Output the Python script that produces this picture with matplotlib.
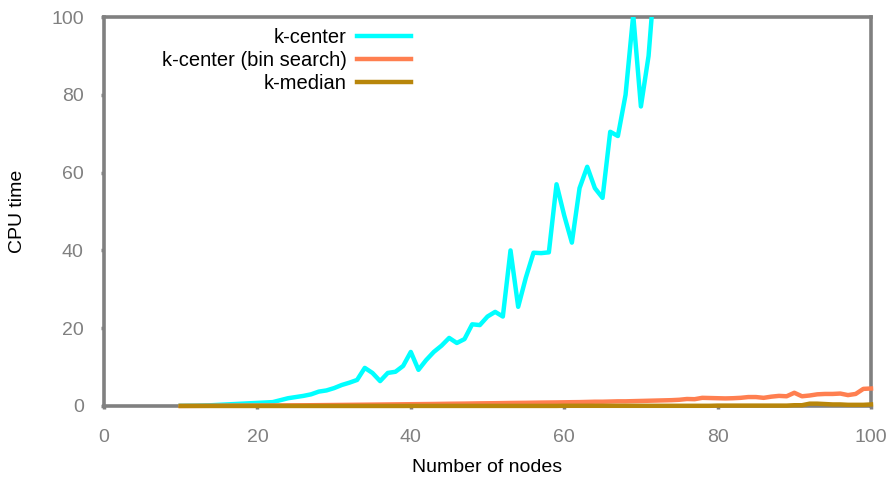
import numpy as np
import matplotlib
matplotlib.use("Agg")
import matplotlib.pyplot as plt

# data
nodes_kc = list(range(10, 73))
cpu_kc = [0.05, 0.08, 0.1, 0.15, 0.2, 0.3, 0.4, 0.5, 0.6, 0.7,
          0.8, 0.9, 1.0, 1.5, 2.0, 2.3, 2.6, 3.0, 3.7, 4.0,
          4.6, 5.4, 6.0, 6.7, 9.8, 8.5, 6.4, 8.5, 8.8, 10.3,
          13.9, 9.3, 11.8, 13.9, 15.5, 17.5, 16.2, 17.2, 21.0, 20.8,
          23.0, 24.2, 23.0, 40.0, 25.5, 33.0, 39.4, 39.3, 39.5, 57.0,
          49.0, 42.0, 56.0, 61.5, 56.0, 53.5, 70.5, 69.4, 80.0, 100.5,
          77.0, 90.0, 115.0]

nodes = list(range(10, 101))
cpu_bin = [0.02, 0.03, 0.04, 0.05, 0.06, 0.07, 0.08, 0.09, 0.10, 0.11,
           0.12, 0.13, 0.14, 0.15, 0.16, 0.17, 0.18, 0.20, 0.22, 0.24,
           0.26, 0.28, 0.30, 0.32, 0.34, 0.36, 0.38, 0.40, 0.42, 0.44,
           0.46, 0.48, 0.50, 0.52, 0.55, 0.58, 0.60, 0.62, 0.65, 0.68,
           0.70, 0.72, 0.75, 0.78, 0.80, 0.82, 0.85, 0.88, 0.90, 0.92,
           0.95, 0.98, 1.0, 1.05, 1.1, 1.1, 1.15, 1.2, 1.2, 1.25,
           1.3, 1.35, 1.4, 1.45, 1.5, 1.6, 1.8, 1.75, 2.1, 2.05,
           2.0, 1.95, 2.0, 2.1, 2.3, 2.3, 2.1, 2.4, 2.6, 2.5,
           3.4, 2.5, 2.7, 3.0, 3.1, 3.1, 3.2, 2.8, 3.1, 4.4, 4.5]
cpu_med = [0.01] * 30 + [0.02] * 20 + [0.05] * 20 + [0.1] * 10 + \
          [0.2, 0.2, 0.6, 0.6, 0.5, 0.4, 0.4, 0.3, 0.3, 0.3, 0.4]

labels = ["k-center", "k-center (bin search)", "k-median"]
colors = ["#00FFFF", "#FF7F50", "#B8860B"]
ticks = [0, 20, 40, 60, 80, 100]

GRAY = "#808080"
plt.rcParams['font.family'] = ["Liberation Sans", "DejaVu Sans"]

fig = plt.figure(figsize=(8.92, 4.79), dpi=100)
ax = fig.add_axes([104/892, 1 - 406/479, (871-104)/892, (406-17)/479])

ax.plot(nodes_kc, cpu_kc, color=colors[0], lw=3.2, label=labels[0], zorder=3)
ax.plot(nodes, cpu_bin, color=colors[1], lw=3.2, label=labels[1], zorder=3,
        clip_on=False)
ax.plot(nodes, cpu_med, color=colors[2], lw=3.2, label=labels[2], zorder=3,
        clip_on=False)

ax.set_xlim(0, 100)
ax.set_ylim(0, 100)
ax.set_xticks(ticks)
ax.set_yticks(ticks)
for s in ax.spines.values():
    s.set_color(GRAY)
    s.set_linewidth(2.6)
ax.tick_params(direction='out', length=2.5, width=2.5, color=GRAY,
               labelcolor=GRAY, labelsize=14)
ax.tick_params(axis='x', pad=14)
ax.tick_params(axis='y', pad=12)

ax.set_xlabel("Number of nodes", fontsize=14, va='center')
ax.set_ylabel("CPU time", fontsize=14, va='center')
ax.xaxis.set_label_coords(0.5, (406-467)/389)
ax.yaxis.set_label_coords((17-104)/767, 0.5)

leg = ax.legend(loc='upper right', bbox_to_anchor=(411/892, 1 - 28/479),
                bbox_transform=fig.transFigure, frameon=False,
                markerfirst=False, fontsize=14.5, handlelength=2.7,
                handletextpad=0.5, labelspacing=0.2, borderpad=0,
                borderaxespad=0)

fig.savefig("out.png", dpi=100)
